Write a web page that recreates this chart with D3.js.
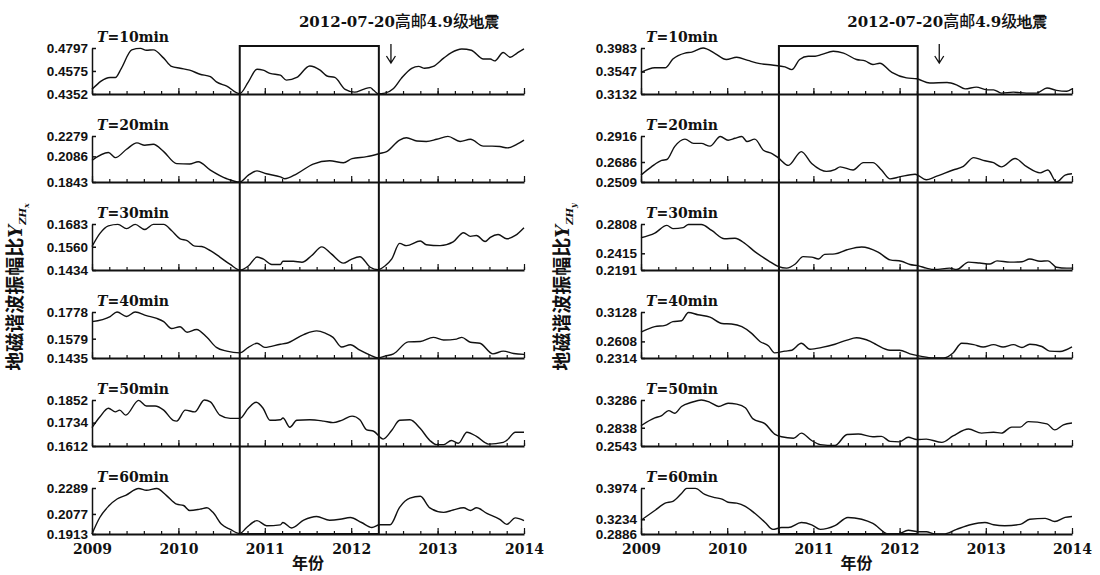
<!DOCTYPE html>
<html>
<head>
<meta charset="utf-8">
<script src="https://cdn.jsdelivr.net/npm/d3@7"></script>
<style>
  body { margin: 0; background: #fff; }
</style>
</head>
<body>
<script>
'use strict';

// periods of the harmonic analysis (one small panel each)
const periods = [10, 20, 30, 40, 50, 60];
const years = [2009, 2010, 2011, 2012, 2013, 2014];

// tick labels of every panel [min, mid, max]
const hxTicks = [[0.4352, 0.4575, 0.4797], [0.1843, 0.2086, 0.2279], [0.1434, 0.1560, 0.1683],
                 [0.1435, 0.1579, 0.1778], [0.1612, 0.1734, 0.1852], [0.1913, 0.2077, 0.2289]];
const hyTicks = [[0.3132, 0.3547, 0.3983], [0.2509, 0.2686, 0.2916], [0.2191, 0.2415, 0.2808],
                 [0.2314, 0.2608, 0.3128], [0.2543, 0.2838, 0.3286], [0.2886, 0.3234, 0.3974]];

// anomaly windows (boxes) and the earthquake arrow, in years
const boxHx = [2010.71, 2012.32];
const boxHy = [2010.60, 2012.21];
const quakeYear = 2012.46;
const quakeText = ["2012-07-20", "高邮", "4.9", "级", "地震"];

// Y_ZHx series, [year, ratio]
const hx10 = [[2009.00,0.4397],[2009.21,0.4512],[2009.27,0.4512],[2009.34,0.4601],[2009.46,0.4779],[2009.56,0.4793],[2009.63,0.4775],[2009.71,0.4779],[2009.83,0.4699],[2009.92,0.4619],[2010.02,0.4601],[2010.13,0.4583],[2010.25,0.4543],[2010.37,0.4519],[2010.44,0.4470],[2010.56,0.4428],[2010.71,0.4356],[2010.81,0.4470],[2010.91,0.4592],[2010.98,0.4583],[2011.06,0.4552],[2011.18,0.4534],[2011.25,0.4486],[2011.37,0.4512],[2011.52,0.4623],[2011.64,0.4583],[2011.72,0.4526],[2011.81,0.4512],[2011.93,0.4397],[2012.04,0.4370],[2012.14,0.4397],[2012.22,0.4414],[2012.26,0.4388],[2012.31,0.4356],[2012.39,0.4361],[2012.49,0.4405],[2012.58,0.4503],[2012.70,0.4601],[2012.78,0.4619],[2012.85,0.4601],[2012.95,0.4619],[2013.07,0.4699],[2013.16,0.4753],[2013.28,0.4788],[2013.39,0.4775],[2013.53,0.4690],[2013.61,0.4690],[2013.66,0.4672],[2013.76,0.4753],[2013.84,0.4708],[2013.92,0.4748],[2014.00,0.4788]];
const hx20 = [[2009.00,0.2048],[2009.19,0.2122],[2009.27,0.2074],[2009.40,0.2153],[2009.52,0.2214],[2009.61,0.2192],[2009.71,0.2201],[2009.83,0.2131],[2009.98,0.2017],[2010.13,0.2013],[2010.23,0.2035],[2010.37,0.1956],[2010.56,0.1874],[2010.71,0.1843],[2010.81,0.1908],[2010.91,0.1948],[2011.02,0.1921],[2011.18,0.1891],[2011.23,0.1874],[2011.37,0.1921],[2011.56,0.2013],[2011.75,0.2044],[2011.91,0.2026],[2012.01,0.2065],[2012.18,0.2083],[2012.33,0.2113],[2012.41,0.2131],[2012.56,0.2240],[2012.64,0.2262],[2012.76,0.2231],[2012.87,0.2227],[2012.99,0.2248],[2013.12,0.2275],[2013.26,0.2227],[2013.38,0.2248],[2013.53,0.2183],[2013.63,0.2183],[2013.72,0.2179],[2013.81,0.2166],[2013.92,0.2201],[2014.00,0.2240]];
const hx30 = [[2009.00,0.1561],[2009.09,0.1631],[2009.19,0.1673],[2009.30,0.1681],[2009.40,0.1658],[2009.50,0.1681],[2009.61,0.1653],[2009.71,0.1681],[2009.83,0.1681],[2009.92,0.1648],[2010.02,0.1603],[2010.10,0.1593],[2010.19,0.1563],[2010.27,0.1561],[2010.37,0.1539],[2010.48,0.1504],[2010.60,0.1464],[2010.71,0.1434],[2010.81,0.1456],[2010.91,0.1504],[2010.98,0.1494],[2011.08,0.1464],[2011.18,0.1464],[2011.21,0.1481],[2011.33,0.1481],[2011.43,0.1476],[2011.54,0.1511],[2011.66,0.1559],[2011.77,0.1521],[2011.91,0.1471],[2011.99,0.1489],[2012.10,0.1506],[2012.22,0.1449],[2012.31,0.1436],[2012.39,0.1456],[2012.47,0.1494],[2012.56,0.1578],[2012.64,0.1566],[2012.80,0.1591],[2012.87,0.1571],[2013.03,0.1566],[2013.18,0.1586],[2013.30,0.1636],[2013.38,0.1616],[2013.45,0.1621],[2013.55,0.1588],[2013.61,0.1611],[2013.70,0.1626],[2013.80,0.1603],[2013.90,0.1621],[2014.00,0.1663]];
const hx40 = [[2009.00,0.1706],[2009.21,0.1744],[2009.29,0.1778],[2009.40,0.1744],[2009.50,0.1778],[2009.63,0.1751],[2009.75,0.1730],[2009.83,0.1706],[2009.92,0.1655],[2010.02,0.1668],[2010.10,0.1627],[2010.21,0.1648],[2010.33,0.1589],[2010.44,0.1514],[2010.56,0.1486],[2010.71,0.1473],[2010.81,0.1514],[2010.91,0.1545],[2011.00,0.1514],[2011.18,0.1538],[2011.25,0.1545],[2011.45,0.1610],[2011.60,0.1637],[2011.70,0.1620],[2011.79,0.1589],[2011.89,0.1517],[2011.99,0.1534],[2012.10,0.1493],[2012.22,0.1456],[2012.31,0.1435],[2012.39,0.1449],[2012.49,0.1466],[2012.66,0.1555],[2012.80,0.1558],[2012.95,0.1589],[2013.07,0.1569],[2013.22,0.1576],[2013.28,0.1589],[2013.38,0.1552],[2013.49,0.1545],[2013.64,0.1466],[2013.76,0.1486],[2013.88,0.1469],[2014.00,0.1462]];
const hx50 = [[2009.00,0.1708],[2009.09,0.1763],[2009.19,0.1809],[2009.27,0.1790],[2009.32,0.1799],[2009.39,0.1773],[2009.54,0.1850],[2009.63,0.1821],[2009.73,0.1821],[2009.83,0.1799],[2009.94,0.1746],[2009.98,0.1742],[2010.08,0.1799],[2010.19,0.1790],[2010.30,0.1852],[2010.37,0.1842],[2010.48,0.1773],[2010.60,0.1756],[2010.71,0.1756],[2010.81,0.1809],[2010.90,0.1840],[2010.98,0.1809],[2011.06,0.1746],[2011.18,0.1749],[2011.21,0.1758],[2011.29,0.1710],[2011.37,0.1746],[2011.52,0.1749],[2011.68,0.1742],[2011.79,0.1734],[2011.89,0.1746],[2012.01,0.1768],[2012.10,0.1749],[2012.18,0.1696],[2012.26,0.1689],[2012.37,0.1648],[2012.47,0.1694],[2012.56,0.1746],[2012.68,0.1749],[2012.80,0.1703],[2012.91,0.1641],[2012.99,0.1619],[2013.07,0.1619],[2013.16,0.1641],[2013.24,0.1626],[2013.34,0.1684],[2013.45,0.1662],[2013.59,0.1622],[2013.76,0.1631],[2013.80,0.1641],[2013.90,0.1684],[2014.00,0.1684]];
const hx60 = [[2009.00,0.1913],[2009.09,0.2048],[2009.19,0.2139],[2009.29,0.2199],[2009.39,0.2229],[2009.54,0.2285],[2009.63,0.2270],[2009.75,0.2285],[2009.86,0.2229],[2009.98,0.2157],[2010.06,0.2146],[2010.13,0.2105],[2010.25,0.2116],[2010.33,0.2127],[2010.40,0.2090],[2010.50,0.1992],[2010.60,0.1951],[2010.71,0.1917],[2010.79,0.1966],[2010.91,0.2022],[2011.02,0.1981],[2011.18,0.1988],[2011.21,0.2007],[2011.31,0.1962],[2011.45,0.2026],[2011.60,0.2056],[2011.75,0.2026],[2011.87,0.2033],[2011.99,0.2048],[2012.12,0.2007],[2012.24,0.1966],[2012.33,0.1988],[2012.45,0.1988],[2012.56,0.2131],[2012.68,0.2206],[2012.80,0.2221],[2012.91,0.2127],[2013.07,0.2090],[2013.18,0.2109],[2013.30,0.2127],[2013.38,0.2105],[2013.45,0.2127],[2013.57,0.2082],[2013.72,0.2033],[2013.80,0.1992],[2013.90,0.2045],[2014.00,0.2022]];

// Y_ZHy series, [year, ratio]
const hy10 = [[2009.00,0.3532],[2009.16,0.3617],[2009.28,0.3617],[2009.37,0.3779],[2009.51,0.3889],[2009.59,0.3906],[2009.72,0.3983],[2009.86,0.3881],[2009.99,0.3770],[2010.11,0.3813],[2010.24,0.3753],[2010.38,0.3694],[2010.52,0.3668],[2010.67,0.3634],[2010.75,0.3583],[2010.84,0.3770],[2010.94,0.3830],[2011.02,0.3830],[2011.10,0.3864],[2011.23,0.3923],[2011.35,0.3889],[2011.50,0.3770],[2011.60,0.3745],[2011.69,0.3677],[2011.77,0.3702],[2011.91,0.3532],[2012.08,0.3430],[2012.20,0.3413],[2012.35,0.3336],[2012.55,0.3345],[2012.66,0.3302],[2012.76,0.3226],[2012.89,0.3260],[2013.01,0.3209],[2013.09,0.3209],[2013.18,0.3149],[2013.32,0.3166],[2013.47,0.3149],[2013.59,0.3149],[2013.71,0.3243],[2013.82,0.3200],[2013.94,0.3183],[2014.00,0.3226]];
const hy20 = [[2009.00,0.2570],[2009.12,0.2643],[2009.24,0.2700],[2009.30,0.2708],[2009.39,0.2822],[2009.51,0.2888],[2009.61,0.2851],[2009.70,0.2851],[2009.80,0.2826],[2009.92,0.2912],[2010.01,0.2879],[2010.09,0.2896],[2010.17,0.2912],[2010.23,0.2867],[2010.32,0.2888],[2010.42,0.2790],[2010.52,0.2761],[2010.59,0.2725],[2010.71,0.2656],[2010.86,0.2778],[2010.98,0.2672],[2011.08,0.2619],[2011.15,0.2603],[2011.25,0.2619],[2011.31,0.2643],[2011.46,0.2615],[2011.58,0.2680],[2011.69,0.2680],[2011.79,0.2615],[2011.89,0.2537],[2012.00,0.2554],[2012.18,0.2578],[2012.31,0.2529],[2012.41,0.2554],[2012.62,0.2615],[2012.74,0.2647],[2012.86,0.2725],[2012.97,0.2700],[2013.09,0.2680],[2013.18,0.2643],[2013.34,0.2717],[2013.47,0.2647],[2013.63,0.2590],[2013.72,0.2615],[2013.82,0.2509],[2013.92,0.2570],[2014.00,0.2582]];
const hy30 = [[2009.00,0.2623],[2009.16,0.2685],[2009.30,0.2789],[2009.37,0.2746],[2009.49,0.2759],[2009.55,0.2802],[2009.70,0.2802],[2009.82,0.2722],[2009.97,0.2611],[2010.09,0.2617],[2010.21,0.2543],[2010.32,0.2438],[2010.48,0.2314],[2010.59,0.2240],[2010.69,0.2216],[2010.79,0.2271],[2010.88,0.2370],[2010.98,0.2364],[2011.06,0.2339],[2011.13,0.2401],[2011.25,0.2407],[2011.39,0.2462],[2011.56,0.2500],[2011.75,0.2432],[2011.89,0.2327],[2012.02,0.2308],[2012.12,0.2265],[2012.22,0.2247],[2012.31,0.2216],[2012.41,0.2197],[2012.58,0.2216],[2012.66,0.2197],[2012.80,0.2296],[2012.93,0.2284],[2013.05,0.2271],[2013.13,0.2314],[2013.28,0.2296],[2013.42,0.2302],[2013.51,0.2339],[2013.63,0.2308],[2013.72,0.2314],[2013.82,0.2228],[2013.94,0.2216],[2014.00,0.2216]];
const hy40 = [[2009.00,0.2770],[2009.16,0.2868],[2009.28,0.2892],[2009.37,0.2957],[2009.47,0.2973],[2009.55,0.3120],[2009.66,0.3079],[2009.80,0.3038],[2009.94,0.2925],[2010.05,0.2916],[2010.17,0.2868],[2010.28,0.2754],[2010.38,0.2607],[2010.48,0.2526],[2010.55,0.2404],[2010.67,0.2436],[2010.75,0.2452],[2010.86,0.2574],[2010.96,0.2469],[2011.10,0.2501],[2011.25,0.2558],[2011.39,0.2631],[2011.50,0.2672],[2011.66,0.2607],[2011.73,0.2550],[2011.89,0.2452],[2012.00,0.2452],[2012.12,0.2387],[2012.24,0.2347],[2012.39,0.2314],[2012.51,0.2314],[2012.62,0.2404],[2012.72,0.2574],[2012.86,0.2550],[2012.97,0.2509],[2013.09,0.2550],[2013.20,0.2509],[2013.32,0.2550],[2013.42,0.2501],[2013.51,0.2558],[2013.65,0.2518],[2013.74,0.2436],[2013.86,0.2428],[2014.00,0.2509]];
const hy50 = [[2009.00,0.2870],[2009.16,0.2996],[2009.24,0.3033],[2009.32,0.3115],[2009.39,0.3071],[2009.47,0.3182],[2009.59,0.3249],[2009.70,0.3286],[2009.80,0.3249],[2009.90,0.3182],[2010.01,0.3234],[2010.11,0.3219],[2010.21,0.3160],[2010.30,0.2981],[2010.44,0.2900],[2010.55,0.2736],[2010.63,0.2692],[2010.77,0.2669],[2010.86,0.2751],[2010.98,0.2632],[2011.08,0.2565],[2011.25,0.2550],[2011.39,0.2729],[2011.52,0.2736],[2011.69,0.2692],[2011.79,0.2699],[2011.89,0.2617],[2012.00,0.2610],[2012.10,0.2684],[2012.20,0.2647],[2012.31,0.2654],[2012.49,0.2602],[2012.62,0.2706],[2012.80,0.2818],[2012.95,0.2751],[2013.09,0.2766],[2013.18,0.2751],[2013.30,0.2848],[2013.40,0.2848],[2013.49,0.2937],[2013.71,0.2900],[2013.80,0.2803],[2013.90,0.2885],[2014.00,0.2915]];
const hy60 = [[2009.00,0.3212],[2009.16,0.3441],[2009.28,0.3615],[2009.37,0.3658],[2009.47,0.3843],[2009.53,0.3964],[2009.63,0.3964],[2009.74,0.3822],[2009.86,0.3746],[2009.94,0.3713],[2010.01,0.3637],[2010.11,0.3615],[2010.21,0.3539],[2010.32,0.3376],[2010.44,0.3158],[2010.53,0.2995],[2010.63,0.3038],[2010.71,0.3038],[2010.86,0.3158],[2010.98,0.3104],[2011.08,0.2995],[2011.25,0.3082],[2011.40,0.3278],[2011.56,0.3234],[2011.69,0.3136],[2011.87,0.2886],[2011.98,0.2886],[2012.10,0.2973],[2012.22,0.2940],[2012.31,0.2940],[2012.41,0.2886],[2012.51,0.2886],[2012.66,0.2995],[2012.82,0.3104],[2012.99,0.3158],[2013.09,0.3104],[2013.22,0.3082],[2013.40,0.3114],[2013.51,0.3234],[2013.69,0.3256],[2013.80,0.3180],[2013.92,0.3278],[2014.00,0.3300]];

// page layout
const m = {
  width: 1100,
  height: 575,
  panelTop: 48,
  panelH: 46,
  panelStep: 88,
  boxTop: 46
};

const serif = '"DejaVu Serif", "Liberation Serif", serif';
const cjk = '"Noto Sans CJK SC", sans-serif';
const sans = '"Liberation Sans", Arial, sans-serif';

const svg = d3.select('body')
  .append('svg')
  .attr('width', m.width)
  .attr('height', m.height)
  .style('background', '#fff');

const sides = [
  { x0: 92, x1: 524, series: [hx10, hx20, hx30, hx40, hx50, hx60], ticks: hxTicks, box: boxHx, sub: 'x', labelX: 22 },
  { x0: 641, x1: 1072, series: [hy10, hy20, hy30, hy40, hy50, hy60], ticks: hyTicks, box: boxHy, sub: 'y', labelX: 569 }
];

sides.forEach(drawSide);

function drawSide(side) {
  const xScale = d3.scaleLinear()
    .domain([years[0], years[years.length - 1]])
    .range([side.x0, side.x1]);

  // minor ticks every 0.2 year
  const minor = d3.range(0, 26).map((i) => 2009 + i * 0.2);
  const lastPanel = periods.length - 1;
  const bottomY = m.panelTop + lastPanel * m.panelStep + m.panelH;

  periods.forEach((p, i) => {
    const top = m.panelTop + i * m.panelStep;
    const base = top + m.panelH;
    const t = side.ticks[i];

    const yScale = d3.scaleLinear()
      .domain([t[0], t[2]])
      .range([base, top]);

    // series line
    const line = d3.line()
      .x((d) => xScale(d[0]))
      .y((d) => yScale(d[1]))
      .curve(d3.curveMonotoneX);

    svg.append('path')
      .datum(side.series[i])
      .attr('d', line)
      .attr('fill', 'none')
      .attr('stroke', '#111')
      .attr('stroke-width', 1.4);

    // y axis, ticks pointing inward
    const yAxis = svg.append('g')
      .attr('transform', 'translate(' + side.x0 + ',0)')
      .call(d3.axisLeft(yScale).tickValues(t).tickSize(-4).tickSizeOuter(0)
        .tickPadding(4).tickFormat(d3.format('.4f')));
    yAxis.select('.domain').attr('stroke', '#111').attr('stroke-width', 1.5);
    yAxis.selectAll('line').attr('stroke', '#111').attr('stroke-width', 1.5);
    yAxis.selectAll('text')
      .attr('font-family', sans)
      .attr('font-weight', 'bold')
      .attr('font-size', 13.5)
      .attr('fill', '#111');

    // x axis: minor ticks, then year ticks
    const xMinor = svg.append('g')
      .attr('transform', 'translate(0,' + base + ')')
      .call(d3.axisBottom(xScale).tickValues(minor).tickSize(-3).tickSizeOuter(0).tickFormat(''));
    xMinor.select('.domain').attr('stroke', '#111').attr('stroke-width', 2);
    xMinor.selectAll('line').attr('stroke', '#111').attr('stroke-width', 1.2);

    const xMajor = svg.append('g')
      .attr('transform', 'translate(0,' + base + ')')
      .call(d3.axisBottom(xScale).tickValues(years).tickSize(-6).tickPadding(10)
        .tickFormat(i === lastPanel ? d3.format('d') : ''));
    xMajor.select('.domain').remove();
    xMajor.selectAll('line').attr('stroke', '#111').attr('stroke-width', 1.2);
    xMajor.selectAll('text')
      .attr('font-family', serif)
      .attr('font-weight', 'bold')
      .attr('font-size', 14)
      .attr('fill', '#111');

    // panel title T=..min
    const title = svg.append('text')
      .attr('x', side.x0 + 5)
      .attr('y', top - 6)
      .attr('font-family', serif)
      .attr('font-weight', 'bold')
      .attr('font-size', 14)
      .attr('fill', '#111');
    title.append('tspan').attr('font-style', 'italic').text('T');
    title.append('tspan').text('=' + p + 'min');
  });

  // anomaly box
  svg.append('rect')
    .attr('x', xScale(side.box[0]))
    .attr('y', m.boxTop)
    .attr('width', xScale(side.box[1]) - xScale(side.box[0]))
    .attr('height', bottomY - m.boxTop)
    .attr('fill', 'none')
    .attr('stroke', '#111')
    .attr('stroke-width', 2);

  // earthquake arrow and label
  const qx = xScale(quakeYear);
  svg.append('path')
    .attr('d', 'M' + qx + ',44L' + qx + ',63M' + (qx - 4.5) + ',56L' + qx + ',63L' + (qx + 4.5) + ',56')
    .attr('fill', 'none')
    .attr('stroke', '#111')
    .attr('stroke-width', 1.3);

  const q = svg.append('text')
    .attr('x', qx + 8)
    .attr('y', 27)
    .attr('text-anchor', 'middle')
    .attr('font-size', 15)
    .attr('fill', '#111');
  quakeText.forEach((s, k) => {
    const isCjk = k % 2 === 1;
    q.append('tspan')
      .attr('font-family', isCjk ? cjk : serif)
      .attr('font-weight', isCjk ? 500 : 'bold')
      .attr('font-size', isCjk ? 16 : 15)
      .text(s);
  });

  // y label
  const yl = svg.append('text')
    .attr('transform', 'translate(' + side.labelX + ',' + 287 + ')rotate(-90)')
    .attr('text-anchor', 'middle')
    .attr('fill', '#111');
  yl.append('tspan').attr('font-family', cjk).attr('font-weight', 'bold').attr('font-size', 19).text('地磁谐波振幅比');
  yl.append('tspan').attr('font-family', serif).attr('font-weight', 'bold').attr('font-style', 'italic')
    .attr('font-size', 18).text('Y');
  yl.append('tspan').attr('font-family', serif).attr('font-weight', 'bold').attr('font-style', 'italic')
    .attr('font-size', 10).attr('dy', 4).text('ZH');
  yl.append('tspan').attr('font-family', serif).attr('font-weight', 'bold').attr('font-style', 'italic')
    .attr('font-size', 8).attr('dy', 3).text(side.sub);

  // x label
  svg.append('text')
    .attr('x', (side.x0 + side.x1) / 2)
    .attr('y', 569)
    .attr('text-anchor', 'middle')
    .attr('font-family', cjk)
    .attr('font-weight', 'bold')
    .attr('font-size', 16)
    .attr('fill', '#111')
    .text('年份');
}
</script>
</body>
</html>
